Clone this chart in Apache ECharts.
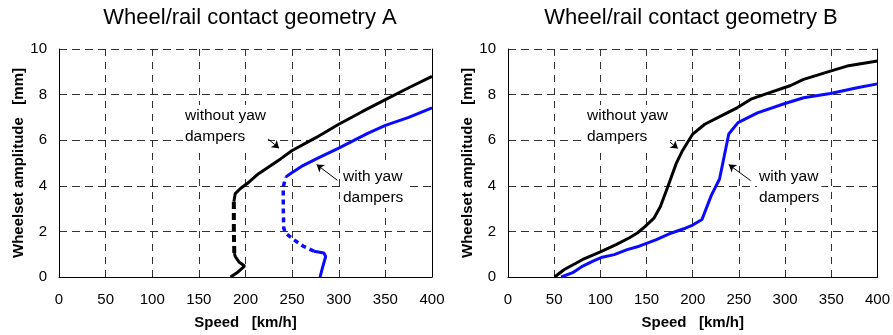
<!DOCTYPE html>
<html>
<head>
<meta charset="utf-8">
<script src="https://cdn.jsdelivr.net/npm/echarts@6/dist/echarts.min.js"></script>
<style>
  body { margin: 0; background: #fff; }
  #main { width: 893px; height: 335px; }
</style>
</head>
<body>
<div id="main"></div>
<script>
// geometry A - without yaw dampers (solid low part, dashed unstable branch, solid upper part)
var aBlackLow = [[184, 0], [192, 0.22], [199, 0.48], [193, 0.66], [189, 0.9], [188, 1.05]];
var aBlackDash = [[188, 1.05], [187.5, 2.0], [187.5, 3.3]];
var aBlackUp = [[187.5, 3.3], [189, 3.66], [194.6, 3.88], [201.8, 4.1], [214, 4.53], [237.6, 5.18],
  [250, 5.55], [275, 6.1], [300, 6.7], [325, 7.25], [350, 7.78], [375, 8.3], [400, 8.8]];

// geometry A - with yaw dampers
var aBlueLow = [[280, 0], [282.5, 0.4], [286, 0.9], [284, 1.05], [273.5, 1.13]];
var aBlueDash = [[273.5, 1.13], [262, 1.35], [252, 1.63], [243, 1.92], [241, 2.14], [240.5, 3.0],
  [240.5, 3.95], [243, 4.38]];
var aBlueUp = [[243, 4.38], [248, 4.53], [260, 4.85], [277, 5.2], [300, 5.65], [331, 6.3],
  [350, 6.65], [375, 7.0], [400, 7.42]];

// geometry B
var bBlack = [[50.4, 0], [61, 0.33], [81, 0.77], [100, 1.1], [117, 1.42], [131, 1.71], [140, 1.93],
  [148, 2.2], [158, 2.58], [165, 3.09], [173, 3.96], [182, 4.97], [189, 5.55], [200, 6.27],
  [213, 6.7], [234, 7.13], [248, 7.42], [263, 7.8], [277, 8.0], [306, 8.4], [320, 8.67],
  [349, 9.03], [367, 9.25], [400, 9.47]];
var bBlue = [[57.6, 0], [70, 0.19], [81, 0.48], [92, 0.7], [102, 0.87], [115, 0.98], [129, 1.2],
  [142, 1.35], [160, 1.63], [177, 1.93], [192, 2.14], [200, 2.28], [210, 2.52], [220, 3.57],
  [229, 4.3], [239, 6.27], [249, 6.77], [270, 7.2], [299, 7.6], [320, 7.86], [349, 8.05],
  [378, 8.3], [400, 8.47]];

var titles = ['Wheel/rail contact geometry A', 'Wheel/rail contact geometry B'];
var xName = 'Speed   [km/h]';
var yName = 'Wheelset amplitude   [mm]';

// arrows: [from, to] in data coords
var arrowsA = [[[215, 6.37], [236, 5.65]], [[298.6, 4.24], [276.3, 4.93]]];
var arrowsB = [[[161.3, 6.36], [183.9, 5.64]], [[262.6, 4.23], [239, 4.93]]];

var FONT = '"Liberation Sans", Arial, sans-serif';
var BLUE = '#0a0aff';

var chart = echarts.init(document.getElementById('main'));

function xAx(i) {
  return {
    gridIndex: i, type: 'value', min: 0, max: 400, interval: 50,
    name: xName, nameLocation: 'middle', nameGap: 38,
    nameTextStyle: { fontFamily: FONT, fontSize: 15, fontWeight: 'bold', color: '#000' },
    axisLine: { lineStyle: { color: '#000', width: 1 } },
    axisTick: { show: false },
    axisLabel: { fontFamily: FONT, fontSize: 15, color: '#000', margin: 15 },
    splitLine: { lineStyle: { color: '#333', type: [7, 6], width: 1 } }
  };
}
function yAx(i) {
  return {
    gridIndex: i, type: 'value', min: 0, max: 10, interval: 2,
    name: yName, nameLocation: 'middle', nameGap: 31,
    nameTextStyle: { fontFamily: FONT, fontSize: 15, fontWeight: 'bold', color: '#000' },
    axisLine: { show: true, lineStyle: { color: '#000', width: 1 } },
    axisTick: { show: false },
    axisLabel: { fontFamily: FONT, fontSize: 15, color: '#000', margin: 12 },
    splitLine: { lineStyle: { color: '#333', type: [8, 5], width: 1 } }
  };
}
function rightBorder(i) {
  return {
    gridIndex: i, type: 'value', min: 0, max: 10, position: 'right',
    axisLine: { show: true, lineStyle: { color: '#000', width: 1 } },
    axisTick: { show: false }, axisLabel: { show: false }, splitLine: { show: false }
  };
}
function line(data, xi, yi, color, width, dash) {
  return {
    type: 'line', xAxisIndex: xi, yAxisIndex: yi, data: data,
    showSymbol: false, symbol: 'none', smooth: false, z: 5,
    lineStyle: { color: color, width: width, type: dash || 'solid' }
  };
}
function arrows(list) {
  return {
    silent: true, symbol: ['none', 'arrow'], symbolSize: 7,
    lineStyle: { color: '#000', width: 1, type: 'solid' },
    label: { show: false },
    data: list.map(function (a) { return [{ coord: a[0] }, { coord: a[1] }]; })
  };
}

var sA = line(aBlackUp, 0, 0, '#000', 3);
sA.markLine = arrows(arrowsA);
var sB = line(bBlack, 1, 2, '#000', 3);
sB.markLine = arrows(arrowsB);

chart.setOption({
  animation: false,
  title: [
    { text: titles[0], left: 245, top: 2, textAlign: 'center',
      textStyle: { fontFamily: FONT, fontSize: 22, fontWeight: 'normal', color: '#000' } },
    { text: titles[1], left: 686, top: 2, textAlign: 'center',
      textStyle: { fontFamily: FONT, fontSize: 22, fontWeight: 'normal', color: '#000' } }
  ],
  grid: [
    { left: 59, top: 49, width: 373, height: 230 },
    { left: 508, top: 49, width: 373, height: 230 }
  ],
  xAxis: [xAx(0), xAx(1)],
  yAxis: [yAx(0), rightBorder(0), yAx(1), rightBorder(1)],
  series: [
    line(aBlackLow, 0, 0, '#000', 3),
    line(aBlackDash, 0, 0, '#000', 4, [7, 4]),
    sA,
    line(aBlueLow, 0, 0, BLUE, 3),
    line(aBlueDash, 0, 0, BLUE, 3.5, [5, 4]),
    line(aBlueUp, 0, 0, BLUE, 3),
    sB,
    line(bBlue, 1, 2, BLUE, 3)
  ]
});

// annotation texts
function note(txt, x, y) {
  return {
    type: 'text', x: x, y: y, z: 10,
    style: {
      text: txt, font: '15.5px ' + FONT, fill: '#000', lineHeight: 21,
      backgroundColor: '#fff', padding: [0, 2, 0, 2]
    }
  };
}
chart.setOption({
  graphic: [
    note('without yaw\ndampers', 183, 105),
    note('with yaw\ndampers', 341, 166),
    note('without yaw\ndampers', 585, 105),
    note('with yaw\ndampers', 757, 166)
  ]
});
</script>
</body>
</html>
